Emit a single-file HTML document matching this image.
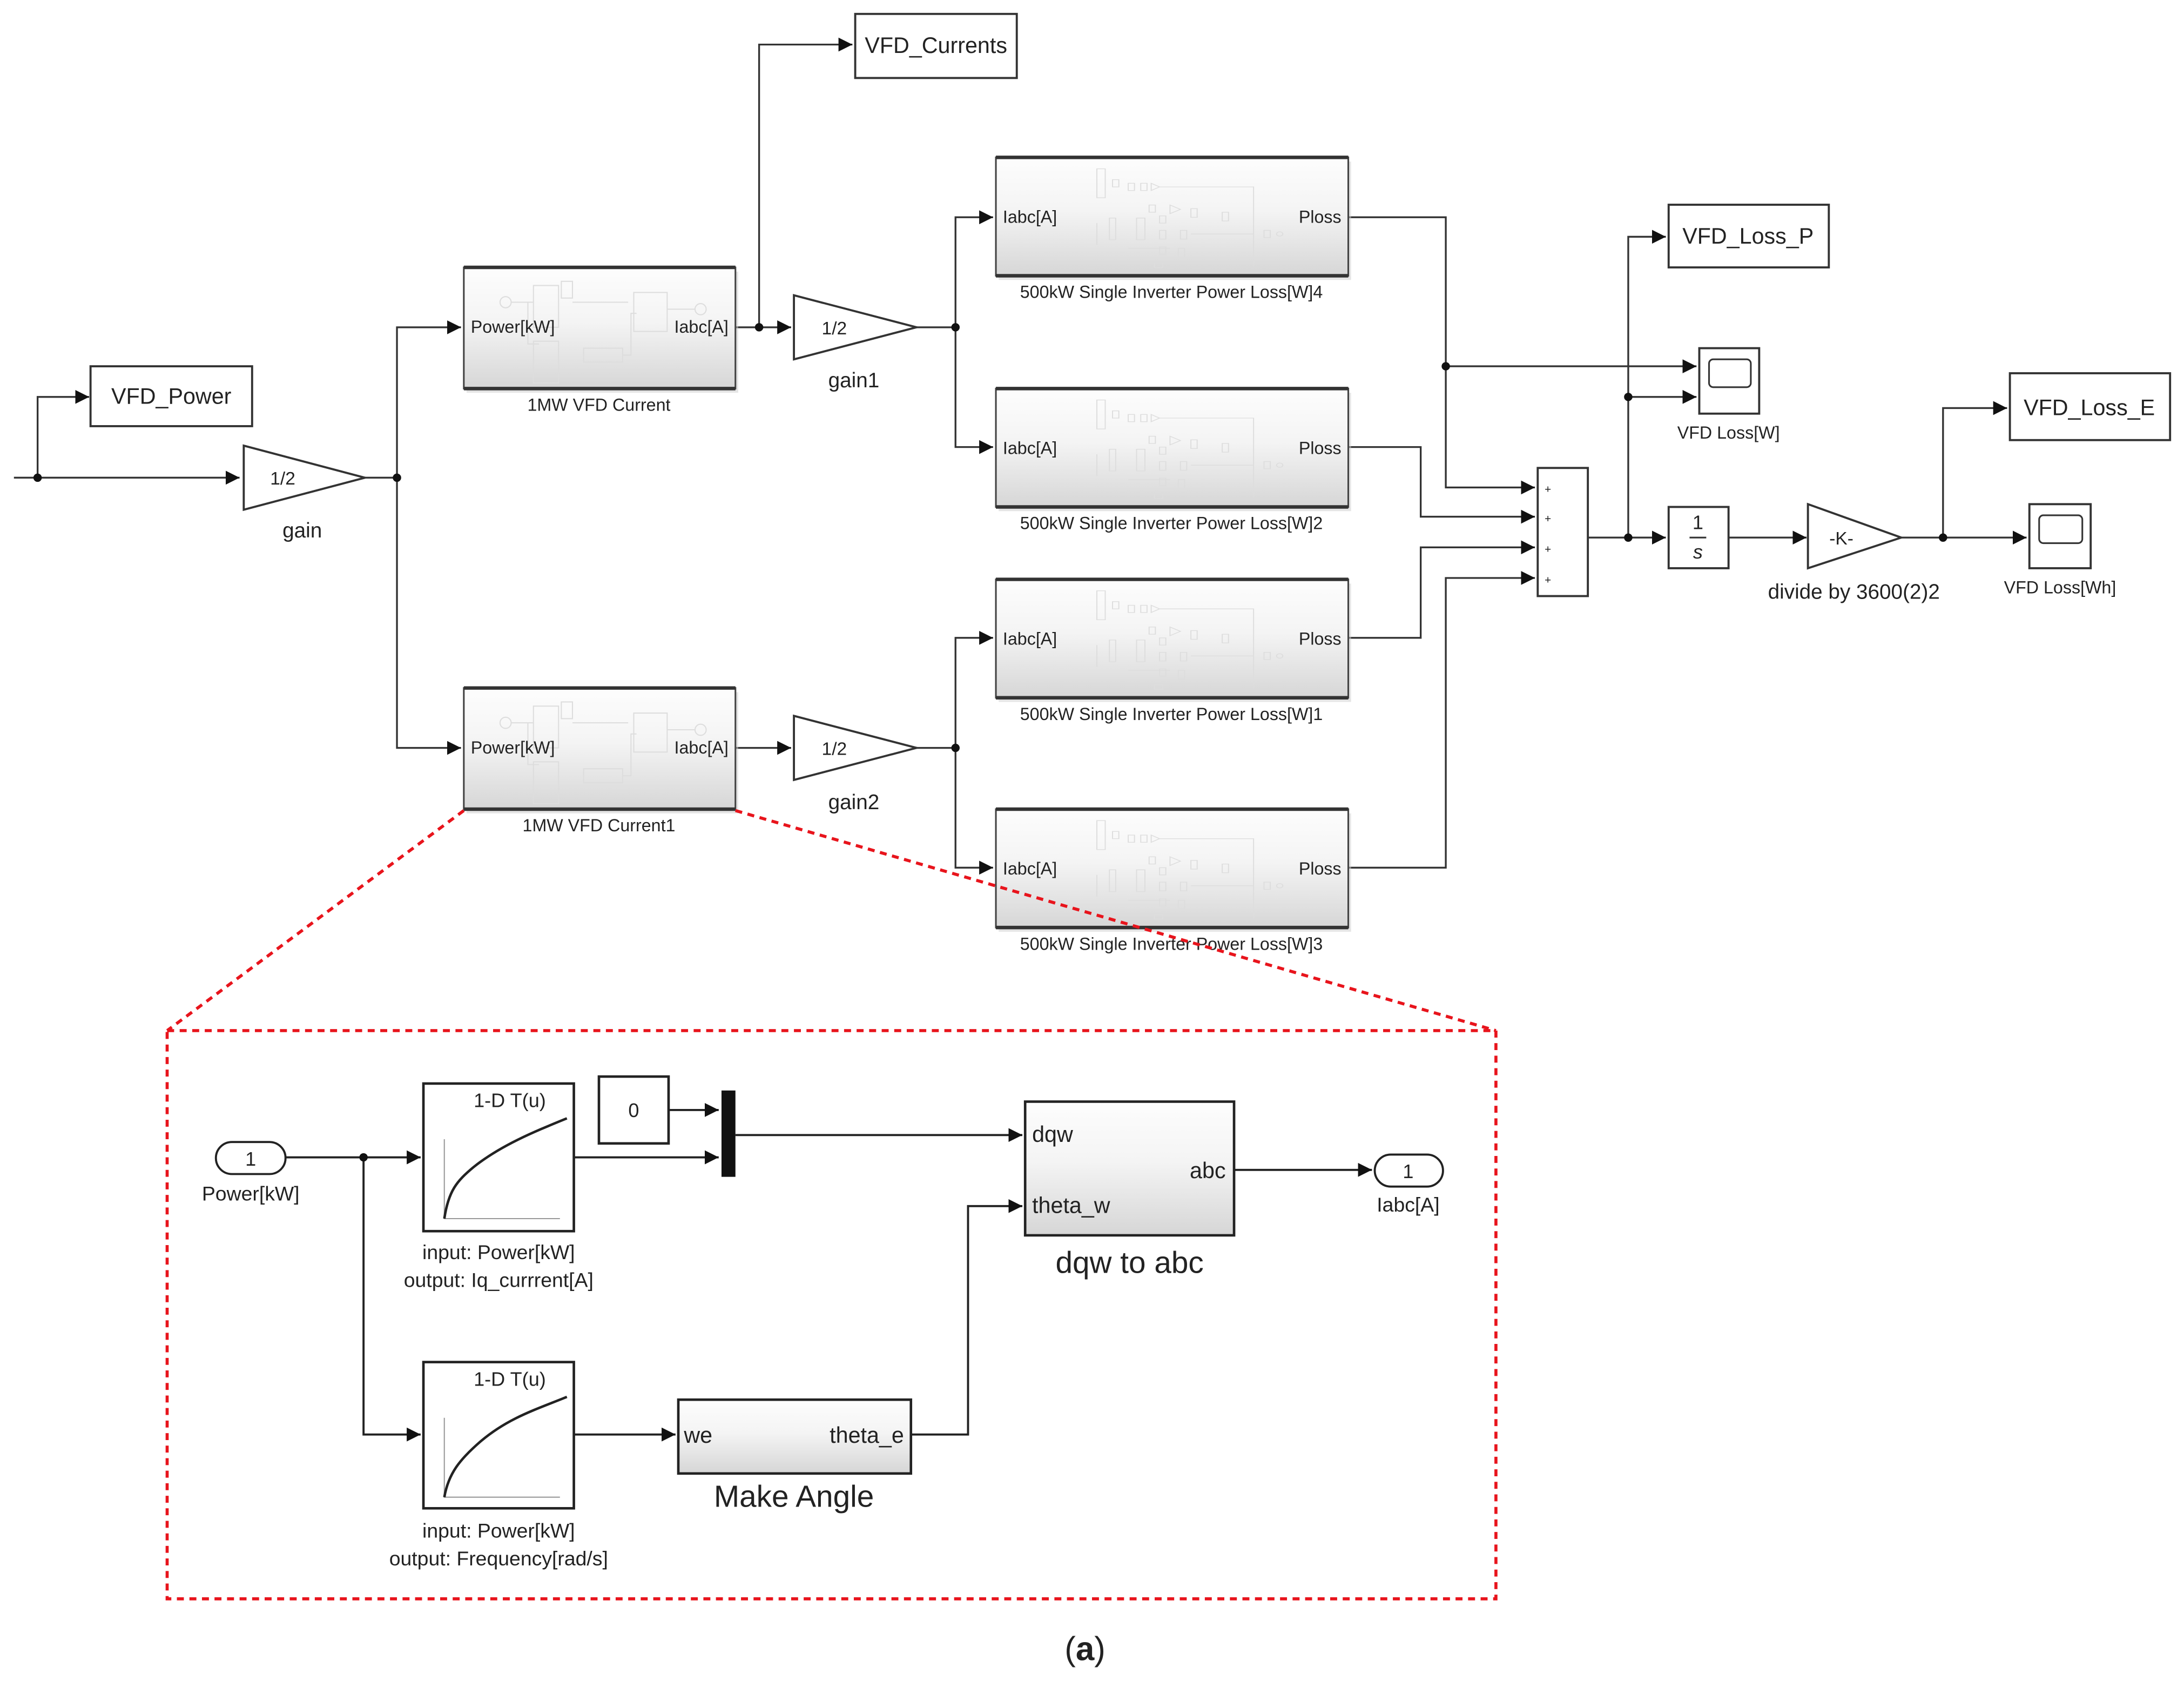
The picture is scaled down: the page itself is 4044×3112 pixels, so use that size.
<!DOCTYPE html>
<html><head><meta charset="utf-8"><style>
html,body{margin:0;padding:0;background:#fff;}
svg{display:block;}
text{font-family:"Liberation Sans",sans-serif;fill:#222;}
</style></head><body>
<svg width="4044" height="3112" viewBox="0 0 1568 1207" preserveAspectRatio="none" xmlns="http://www.w3.org/2000/svg">
<defs>
<linearGradient id="g" x1="0" y1="0" x2="0" y2="1"><stop offset="0" stop-color="#fdfdfd"/><stop offset="0.45" stop-color="#f4f4f4"/><stop offset="1" stop-color="#d6d6d6"/></linearGradient>
<marker id="a" viewBox="0 0 10 10" refX="10" refY="5" markerWidth="10" markerHeight="10" markerUnits="userSpaceOnUse" orient="auto"><path d="M0,0L10,5L0,10z" fill="#111"/></marker>
<g id="mini" stroke="#ddd" fill="none" stroke-width="1">
<g transform="translate(20,3) scale(0.75,0.52)">
<rect x="70" y="10" width="8" height="40"/><rect x="85" y="25" width="6" height="10"/><rect x="100" y="30" width="6" height="10"/><rect x="112" y="30" width="6" height="10"/><path d="M122,30l8,5l-8,5z"/>
<path d="M130,35h90v110"/><rect x="120" y="60" width="6" height="10"/><path d="M140,60l10,6l-10,6z"/><rect x="160" y="65" width="6" height="12"/><rect x="190" y="70" width="6" height="12"/>
<path d="M70,85v30M82,78h6v30h-6zM108,78h8v30h-8zM130,75h6v10h-6zM130,95h6v12h-6zM150,95h6v12h-6zM160,100h60M230,95h6v10h-6z"/><circle cx="245" cy="100" r="3"/>
<path d="M100,120h40M130,118h6v10h-6zM148,120h6v12h-6zM125,140h8v6h-8z"/>
</g>
</g>
<g id="mini2" stroke="#ddd" fill="none" stroke-width="0.8">
<circle cx="30" cy="17" r="4"/><path d="M34,17h16M46,17v30h8"/><rect x="50" y="5" width="18" height="30"/><rect x="70" y="2" width="8" height="12"/><path d="M78,17h40"/><rect x="122" y="10" width="24" height="28"/><path d="M146,22h20"/><circle cx="170" cy="22" r="4"/><rect x="50" y="45" width="18" height="30"/><rect x="86" y="50" width="28" height="10"/><path d="M114,55h6v-30h4"/>
</g>
</defs>

<g stroke="#333" stroke-width="1.3" fill="none">
<path d="M10,343H172" marker-end="url(#a)"/>
<path d="M27,343V285H64" marker-end="url(#a)"/>
<path d="M262,343H285"/>
<path d="M285,343V235H331" marker-end="url(#a)"/>
<path d="M285,343V537H331" marker-end="url(#a)"/>
<path d="M528,235H568" marker-end="url(#a)"/>
<path d="M545,235V32H612" marker-end="url(#a)"/>
<path d="M528,537H568" marker-end="url(#a)"/>
<path d="M658,235H686"/>
<path d="M686,235V156H713" marker-end="url(#a)"/>
<path d="M686,235V321H713" marker-end="url(#a)"/>
<path d="M658,537H686"/>
<path d="M686,537V458H713" marker-end="url(#a)"/>
<path d="M686,537V623H713" marker-end="url(#a)"/>
<path d="M968,156H1038V350H1102" marker-end="url(#a)"/>
<path d="M1038,263H1218" marker-end="url(#a)"/>
<path d="M968,321H1020V371H1102" marker-end="url(#a)"/>
<path d="M968,458H1020V393H1102" marker-end="url(#a)"/>
<path d="M968,623H1038V415H1102" marker-end="url(#a)"/>
<path d="M1140,386H1196" marker-end="url(#a)"/>
<path d="M1169,386V170H1196" marker-end="url(#a)"/>
<path d="M1169,285H1218" marker-end="url(#a)"/>
<path d="M1241,386H1297" marker-end="url(#a)"/>
<path d="M1365,386H1455" marker-end="url(#a)"/>
<path d="M1395,386V293H1441" marker-end="url(#a)"/>
</g>
<g fill="#111">
<circle cx="27" cy="343" r="3"/><circle cx="285" cy="343" r="3"/><circle cx="545" cy="235" r="3"/><circle cx="686" cy="235" r="3"/><circle cx="686" cy="537" r="3"/><circle cx="1038" cy="263" r="3"/><circle cx="1169" cy="386" r="3"/><circle cx="1169" cy="285" r="3"/><circle cx="1395" cy="386" r="3"/>
</g>

<g fill="#fff" stroke="#333" stroke-width="1.5">
<rect x="65" y="263" width="116" height="43"/>
<rect x="614" y="10" width="116" height="46"/>
<rect x="1198" y="147" width="115" height="45"/>
<rect x="1443" y="268" width="115" height="48"/>
<rect x="1104" y="336" width="36" height="92"/>
<rect x="1198" y="364" width="43" height="44"/>
<rect x="1220" y="250" width="43" height="47"/>
<rect x="1457" y="362" width="44" height="46"/>
<path d="M175,320L262,343L175,366Z"/>
<path d="M570,212L658,235L570,258Z"/>
<path d="M570,514L658,537L570,560Z"/>
<path d="M1298,362L1365,386L1298,408Z"/>
</g>
<g fill="none" stroke="#333" stroke-width="1.2"><rect x="1227" y="258" width="30" height="20" rx="3"/><rect x="1464" y="370" width="31" height="20" rx="3"/><path d="M1213,386h12"/></g>
<g font-size="16">
<text x="123" y="290" text-anchor="middle">VFD_Power</text>
<text x="672" y="38" text-anchor="middle">VFD_Currents</text>
<text x="1255" y="175" text-anchor="middle">VFD_Loss_P</text>
<text x="1500" y="298" text-anchor="middle">VFD_Loss_E</text>
</g>
<g font-size="13">
<text x="203" y="348" text-anchor="middle">1/2</text>
<text x="599" y="240" text-anchor="middle">1/2</text>
<text x="599" y="542" text-anchor="middle">1/2</text>
<text x="1322" y="391" text-anchor="middle">-K-</text>
</g>
<text x="1219" y="380" text-anchor="middle" font-family="Liberation Serif" font-size="14">1</text>
<text x="1219" y="401" text-anchor="middle" font-family="Liberation Serif" font-style="italic" font-size="14">s</text>
<g font-size="8" fill="#555"><text x="1109" y="354">+</text><text x="1109" y="375">+</text><text x="1109" y="397">+</text><text x="1109" y="419">+</text></g>
<g font-size="15">
<text x="217" y="386" text-anchor="middle">gain</text>
<text x="613" y="278" text-anchor="middle">gain1</text>
<text x="613" y="581" text-anchor="middle">gain2</text>
<text x="1331" y="430" text-anchor="middle">divide by 3600(2)2</text>
</g>
<g font-size="12.5">
<text x="1241" y="315" text-anchor="middle">VFD Loss[W]</text>
<text x="1479" y="426" text-anchor="middle">VFD Loss[Wh]</text>
</g>

<g>
<rect x="335" y="195" width="195" height="87" fill="#ccc" opacity="0.5"/>
<rect x="333" y="192" width="195" height="87" fill="url(#g)" stroke="#444" stroke-width="1.2"/>
<path d="M333,192h195M333,279h195" stroke="#333" stroke-width="2.5"/>
<use href="#mini2" x="333" y="200"/>
<text x="338" y="239" font-size="12.5">Power[kW]</text><text x="523" y="239" font-size="12.5" text-anchor="end">Iabc[A]</text>
<text x="430" y="295" font-size="12.5" text-anchor="middle">1MW VFD Current</text>

<rect x="335" y="497" width="195" height="87" fill="#ccc" opacity="0.5"/>
<rect x="333" y="494" width="195" height="87" fill="url(#g)" stroke="#444" stroke-width="1.2"/>
<path d="M333,494h195M333,581h195" stroke="#333" stroke-width="2.5"/>
<use href="#mini2" x="333" y="502"/>
<text x="338" y="541" font-size="12.5">Power[kW]</text><text x="523" y="541" font-size="12.5" text-anchor="end">Iabc[A]</text>
<text x="430" y="597" font-size="12.5" text-anchor="middle">1MW VFD Current1</text>
</g>

<g font-size="12.5">
<g transform="translate(715,113)">
<rect x="2" y="3" width="253" height="85" fill="#ccc" opacity="0.5"/><rect width="253" height="85" fill="url(#g)" stroke="#444" stroke-width="1.2"/><path d="M0,0h253M0,85h253" stroke="#333" stroke-width="2.5"/><use href="#mini"/>
<text x="5" y="47">Iabc[A]</text><text x="248" y="47" text-anchor="end">Ploss</text>
<text x="126" y="101" text-anchor="middle">500kW Single Inverter Power Loss[W]4</text></g>
<g transform="translate(715,279)">
<rect x="2" y="3" width="253" height="85" fill="#ccc" opacity="0.5"/><rect width="253" height="85" fill="url(#g)" stroke="#444" stroke-width="1.2"/><path d="M0,0h253M0,85h253" stroke="#333" stroke-width="2.5"/><use href="#mini"/>
<text x="5" y="47">Iabc[A]</text><text x="248" y="47" text-anchor="end">Ploss</text>
<text x="126" y="101" text-anchor="middle">500kW Single Inverter Power Loss[W]2</text></g>
<g transform="translate(715,416)">
<rect x="2" y="3" width="253" height="85" fill="#ccc" opacity="0.5"/><rect width="253" height="85" fill="url(#g)" stroke="#444" stroke-width="1.2"/><path d="M0,0h253M0,85h253" stroke="#333" stroke-width="2.5"/><use href="#mini"/>
<text x="5" y="47">Iabc[A]</text><text x="248" y="47" text-anchor="end">Ploss</text>
<text x="126" y="101" text-anchor="middle">500kW Single Inverter Power Loss[W]1</text></g>
<g transform="translate(715,581)">
<rect x="2" y="3" width="253" height="85" fill="#ccc" opacity="0.5"/><rect width="253" height="85" fill="url(#g)" stroke="#444" stroke-width="1.2"/><path d="M0,0h253M0,85h253" stroke="#333" stroke-width="2.5"/><use href="#mini"/>
<text x="5" y="47">Iabc[A]</text><text x="248" y="47" text-anchor="end">Ploss</text>
<text x="126" y="101" text-anchor="middle">500kW Single Inverter Power Loss[W]3</text></g>
</g>

<g stroke="#e8141c" stroke-width="2.2" stroke-dasharray="5,4" fill="none">
<path d="M333,582L120,740M528,582L1074,740"/>
<rect x="120" y="740" width="954" height="408"/>
</g>

<g stroke="#222" stroke-width="1.5" fill="none">
<path d="M205,831H302" marker-end="url(#a)"/>
<path d="M261,831V1030H302" marker-end="url(#a)"/>
<path d="M480,797H516" marker-end="url(#a)"/>
<path d="M412,831H516" marker-end="url(#a)"/>
<path d="M528,815H734" marker-end="url(#a)"/>
<path d="M886,840H985" marker-end="url(#a)"/>
<path d="M412,1030H485" marker-end="url(#a)"/>
<path d="M654,1030H695V866H734" marker-end="url(#a)"/>
</g>
<circle cx="261" cy="831" r="3" fill="#111"/>
<rect x="155" y="820" width="50" height="23" rx="11.5" fill="#fff" stroke="#222" stroke-width="1.5"/>
<rect x="987" y="829" width="49" height="23" rx="11.5" fill="#fff" stroke="#222" stroke-width="1.5"/>
<text x="180" y="837" font-size="14" text-anchor="middle">1</text>
<text x="1011" y="846" font-size="14" text-anchor="middle">1</text>
<g fill="#fff" stroke="#222" stroke-width="1.8">
<rect x="304" y="778" width="108" height="106"/>
<rect x="304" y="978" width="108" height="105"/>
<rect x="430" y="773" width="50" height="48"/>
</g>
<rect x="518" y="783" width="10" height="62" fill="#111"/>
<g stroke="#999" stroke-width="0.8" fill="none"><path d="M319,818V875H402"/><path d="M319,1018V1075H402"/></g>
<g stroke="#222" stroke-width="1.8" fill="none">
<path d="M319,875C322,855 328,848 340,838C360,822 385,812 407,803"/>
<path d="M319,1075C322,1058 330,1048 345,1035C365,1018 385,1012 407,1003"/>
</g>
<g font-size="14"><text x="366" y="795" text-anchor="middle">1-D T(u)</text><text x="366" y="995" text-anchor="middle">1-D T(u)</text>
<text x="455" y="802" text-anchor="middle">0</text></g>
<g>
<rect x="736" y="791" width="150" height="96" fill="url(#g)" stroke="#222" stroke-width="1.8"/>
<rect x="487" y="1005" width="167" height="53" fill="url(#g)" stroke="#222" stroke-width="1.8"/>
</g>
<g font-size="16">
<text x="741" y="820">dqw</text><text x="741" y="871">theta_w</text><text x="880" y="846" text-anchor="end">abc</text>
<text x="491" y="1036">we</text><text x="649" y="1036" text-anchor="end">theta_e</text>
</g>
<g font-size="22"><text x="811" y="914" text-anchor="middle">dqw to abc</text><text x="570" y="1082" text-anchor="middle">Make Angle</text></g>
<g font-size="14.5" text-anchor="middle">
<text x="180" y="862">Power[kW]</text><text x="1011" y="870">Iabc[A]</text>
<text x="358" y="904">input: Power[kW]</text><text x="358" y="924">output: Iq_currrent[A]</text>
<text x="358" y="1104">input: Power[kW]</text><text x="358" y="1124">output: Frequency[rad/s]</text>
</g>
<text x="779" y="1192" font-size="24" text-anchor="middle" font-family="Liberation Serif">(<tspan font-weight="bold">a</tspan>)</text>
</svg>
</body></html>
